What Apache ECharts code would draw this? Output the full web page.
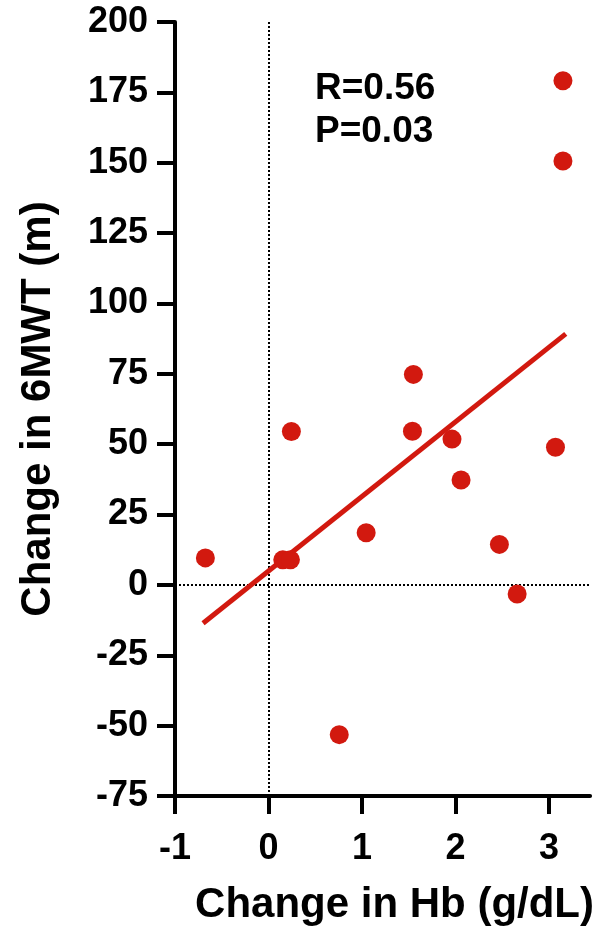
<!DOCTYPE html>
<html>
<head>
<meta charset="utf-8">
<script src="https://cdn.jsdelivr.net/npm/echarts@6/dist/echarts.min.js"></script>
<style>html,body{margin:0;padding:0;background:#fff}#c{width:597px;height:931px}</style>
</head>
<body>
<div id="c"></div>
<script>
// Data
var hbChange = [-0.675, 0.153, 0.235, 0.245, 0.757, 1.045, 1.54, 1.55, 1.963, 2.06, 2.47, 2.66, 3.07, 3.15, 3.15];
var walkChange = [9.6, 8.9, 8.9, 54.5, -53.2, 18.5, 54.6, 74.8, 51.8, 37.3, 14.4, -3.2, 48.9, 150.6, 179.1];
var fitX = [-0.70, 3.18];
var fitY = [-13.6, 89.2];
var xTicks = [-1, 0, 1, 2, 3];
var yTicks = [-75, -50, -25, 0, 25, 50, 75, 100, 125, 150, 175, 200];
var statsText = ['R=0.56', 'P=0.03'];
var xName = 'Change in Hb (g/dL)';
var yName = 'Change in 6MWT (m)';

var FONT = '"Liberation Sans", Arial, Helvetica, sans-serif';
var RED = '#d2190f';

var points = hbChange.map(function (x, i) { return [x, walkChange[i]]; });
var fitLine = fitX.map(function (x, i) { return [x, fitY[i]]; });

var chart = echarts.init(document.getElementById('c'), null, { renderer: 'canvas' });
chart.setOption({
  animation: false,
  backgroundColor: '#fff',
  title: {
    text: statsText.join('\n'),
    left: 310, top: 62,
    textStyle: { fontFamily: FONT, fontWeight: 'bold', fontSize: 37, color: '#000', lineHeight: 43 }
  },
  grid: { left: 175, right: 0, top: 22, bottom: 130, containLabel: false },
  xAxis: {
    type: 'value', min: -1, max: 3.44, interval: 1,
    name: xName, nameLocation: 'middle', nameGap: 88,
    nameTextStyle: { fontFamily: FONT, fontWeight: 'bold', fontSize: 42, color: '#000', padding: [0, 0, 0, 24] },
    axisLine: { show: true, onZero: false, lineStyle: { color: '#000', width: 4 } },
    axisTick: { show: true, length: 18, lineStyle: { color: '#000', width: 4 }, customValues: xTicks },
    axisLabel: { margin: 35, fontFamily: FONT, fontWeight: 'bold', fontSize: 36, color: '#000', customValues: xTicks },
    splitLine: { show: false }
  },
  yAxis: {
    type: 'value', min: -75, max: 200, interval: 25,
    name: yName, nameLocation: 'middle', nameGap: 116,
    nameTextStyle: { fontFamily: FONT, fontWeight: 'bold', fontSize: 42, color: '#000' },
    axisLine: { show: true, onZero: false, lineStyle: { color: '#000', width: 4 } },
    axisTick: { show: true, length: 18, lineStyle: { color: '#000', width: 4 }, customValues: yTicks },
    axisLabel: { margin: 27, fontFamily: FONT, fontWeight: 'bold', fontSize: 36, color: '#000', customValues: yTicks },
    splitLine: { show: false }
  },
  series: [
    {
      type: 'scatter', data: points, symbol: 'circle', symbolSize: 19,
      itemStyle: { color: RED, opacity: 1 }, z: 3,
      markLine: {
        silent: true, symbol: ['none', 'none'], label: { show: false },
        lineStyle: { color: '#000', width: 2, type: [2, 2] },
        data: [{ xAxis: 0 }, { yAxis: 0 }], z: 1
      }
    },
    {
      type: 'line', data: fitLine, showSymbol: false, symbol: 'none',
      lineStyle: { color: RED, width: 5 }, z: 2
    }
  ]
});
</script>
</body>
</html>
